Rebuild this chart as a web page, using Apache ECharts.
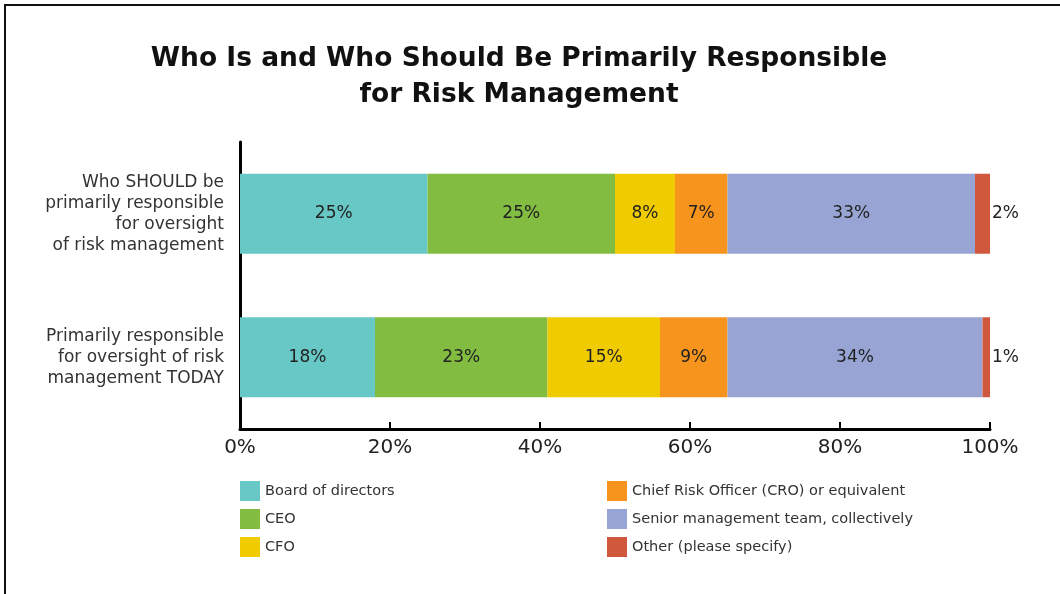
<!DOCTYPE html>
<html>
<head>
<meta charset="utf-8">
<script src="https://cdn.jsdelivr.net/npm/echarts@6/dist/echarts.min.js"></script>
<style>
html,body{margin:0;padding:0;background:#fff;}
#chart{width:1060px;height:594px;}
</style>
</head>
<body>
<div id="chart"></div>
<script>
const categories = [
  'Primarily responsible\nfor oversight of risk\nmanagement TODAY',
  'Who SHOULD be\nprimarily responsible\nfor oversight\nof risk management'
];
const seriesNames = [
  'Board of directors',
  'CEO',
  'CFO',
  'Chief Risk Officer (CRO) or equivalent',
  'Senior management team, collectively',
  'Other (please specify)'
];
const board = [18, 25];
const ceo = [23, 25];
const cfo = [15, 8];
const cro = [9, 7];
const senior = [34, 33];
const other = [1, 2];
const tickLabels = ['0%', '20%', '40%', '60%', '80%', '100%'];
const colors = ['#68C8C6', '#82BD41', '#F0CB00', '#F7941D', '#97A4D4', '#D0593D'];

const values = [board, ceo, cfo, cro, senior, other];
const FONT = '"DejaVu Sans", sans-serif';

const chart = echarts.init(document.getElementById('chart'), null, {renderer: 'canvas'});
const series = values.map((v, i) => ({
  name: seriesNames[i],
  type: 'bar',
  stack: 'total',
  barWidth: 80,
  data: v,
  itemStyle: {color: colors[i]},
  label: {
    show: true,
    position: i === 5 ? 'right' : 'inside',
    distance: 2,
    formatter: '{c}%',
    color: '#222',
    fontSize: 17,
    fontFamily: FONT
  }
}));

chart.setOption({
  animation: false,
  backgroundColor: '#fff',
  color: colors,
  title: {
    text: 'Who Is and Who Should Be Primarily Responsible\nfor Risk Management',
    left: 514,
    top: 36,
    textAlign: 'center',
    textStyle: {
      fontFamily: FONT,
      fontWeight: 'bold',
      fontSize: 26.5,
      lineHeight: 36,
      color: '#111'
    }
  },
  grid: {left: 240, right: 70, top: 142, bottom: 165, containLabel: false},
  xAxis: {
    type: 'value',
    min: 0,
    max: 100,
    interval: 20,
    axisLine: {show: true, lineStyle: {color: '#000', width: 3}},
    axisTick: {show: true, inside: true, length: 7, lineStyle: {color: '#000', width: 2}},
    splitLine: {show: false},
    axisLabel: {
      formatter: function (v) { return tickLabels[Math.round(v / 20)]; },
      color: '#222',
      fontSize: 20,
      fontFamily: FONT,
      margin: 9
    }
  },
  yAxis: {
    type: 'category',
    data: categories,
    axisLine: {show: true, lineStyle: {color: '#000', width: 3}},
    axisTick: {show: false},
    axisLabel: {
      color: '#333',
      fontSize: 17,
      lineHeight: 21,
      fontFamily: FONT,
      align: 'right',
      margin: 16
    }
  },
  legend: [
    {
      data: seriesNames.slice(0, 3),
      orient: 'vertical',
      left: 240,
      top: 481,
      padding: 0,
      itemWidth: 20,
      itemHeight: 20,
      itemGap: 8,
      icon: 'rect',
      textStyle: {color: '#333', fontSize: 14.5, fontFamily: FONT},
      selectedMode: false
    },
    {
      data: seriesNames.slice(3),
      orient: 'vertical',
      left: 607,
      top: 481,
      padding: 0,
      itemWidth: 20,
      itemHeight: 20,
      itemGap: 8,
      icon: 'rect',
      textStyle: {color: '#333', fontSize: 14.5, fontFamily: FONT},
      selectedMode: false
    }
  ],
  graphic: [
    {
      type: 'polyline',
      shape: {points: [[1075, 5], [5, 5], [5, 610]]},
      style: {stroke: '#111', lineWidth: 2, fill: null},
      silent: true
    }
  ],
  series: series
});
</script>
</body>
</html>
